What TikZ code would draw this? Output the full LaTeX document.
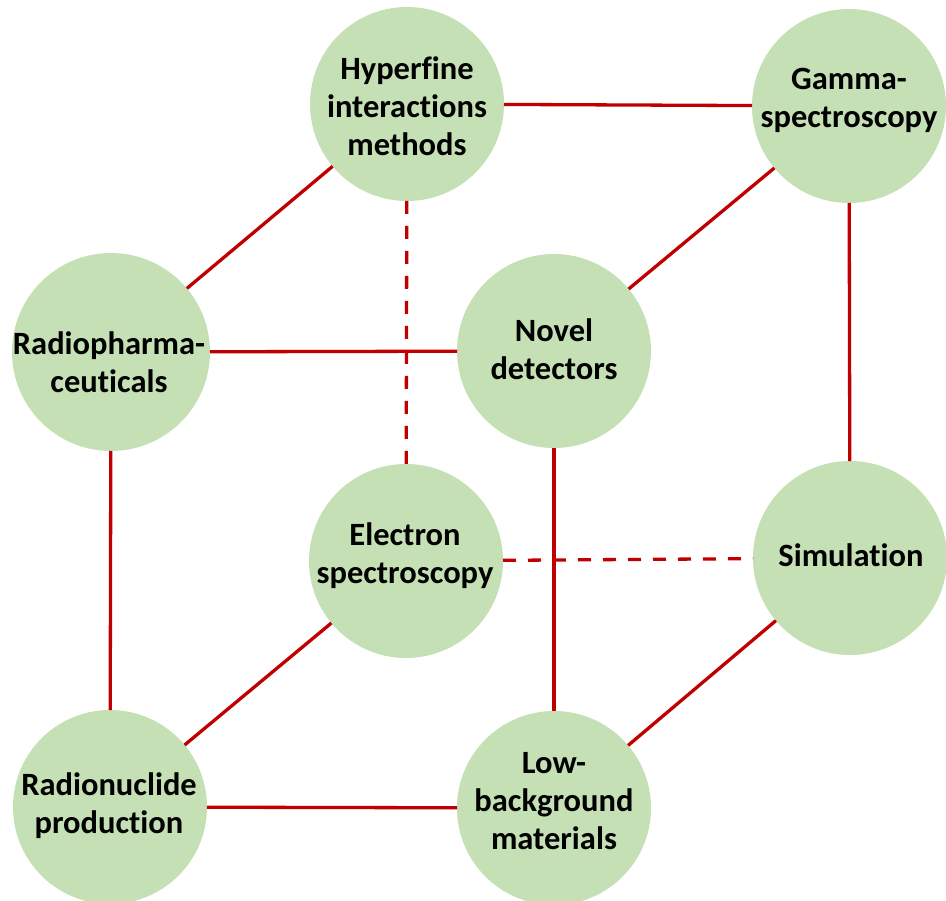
\documentclass[tikz,border=0pt]{standalone}
\usepackage{fontspec}
\setmainfont[Ligatures={NoCommon}]{Carlito}
\definecolor{ballgreen}{HTML}{C5E0B4}
\definecolor{linered}{HTML}{C00000}
\begin{document}
\begin{tikzpicture}[x=1pt,y=-1pt,
  ball/.style={circle,fill=ballgreen,draw=none,minimum size=194pt,inner sep=0pt,outer sep=0pt},
  txt/.style={align=center,inner sep=0pt,font=\fontsize{32.5}{38}\selectfont\bfseries},
  link/.style={draw=linered,line width=3.3pt},
  dlink/.style={link,dash pattern=on 13pt off 12pt}]
\useasboundingbox (0,0) rectangle (946,901);
% back face
\node[ball] (hyp) at (407,104) {};
\node[ball] (gam) at (849,106) {};
\node[ball] (ele) at (406,561) {};
\node[ball] (sim) at (850,558) {};
% front face
\node[ball,minimum size=198pt] (rad) at (111,352) {};
\node[ball] (nov) at (554,351) {};
\node[ball] (nuc) at (110,807) {};
\node[ball] (low) at (554,808) {};
% texts
\node[txt] (thyp) at (407,106) {Hyperfine\\interactions\\methods};
\node[txt] (tgam) at (849,100) {Gamma-\\spectroscopy};
\node[txt] (tele) at (405,556) {Electron\\spectroscopy};
\node[txt] (tsim) at (851,555) {Simulation};
\node[txt] (trad) at (109,362) {Radiopharma-\\ceuticals};
\node[txt] (tnov) at (554,349) {Novel\\detectors};
\node[txt] (tnuc) at (109,806) {Radionuclide\\production};
\node[txt] (tlow) at (554,801) {Low-\\background\\materials};
% connectors
\draw[link] (hyp) -- (gam);
\draw[link] (hyp) -- (rad);
\draw[link] (gam) -- (nov);
\draw[link] (gam) -- (sim);
\draw[link] (rad) -- (nov);
\draw[link] (rad) -- (nuc);
\draw[link] (nov) -- (low);
\draw[link] (nuc) -- (low);
\draw[link] (ele) -- (nuc);
\draw[link] (sim) -- (low);
\draw[dlink] (hyp) -- (ele);
\draw[dlink] (ele) -- (sim);
\end{tikzpicture}
\end{document}
